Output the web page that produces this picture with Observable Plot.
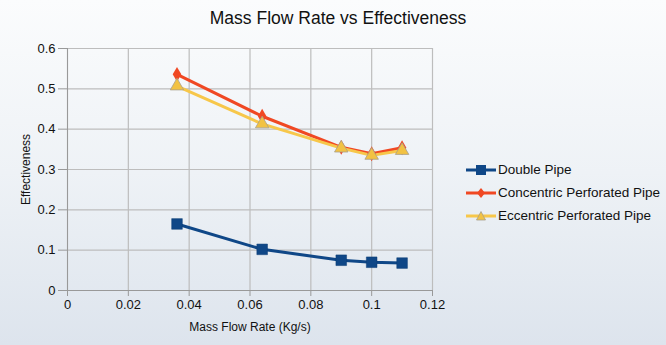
<!DOCTYPE html>
<html>
<head>
<meta charset="utf-8">
<script src="https://cdn.jsdelivr.net/npm/d3@7"></script>
<script src="https://cdn.jsdelivr.net/npm/@observablehq/plot@0.6"></script>
<style>
  html, body { margin: 0; padding: 0; }
  #wrap {
    position: relative; width: 666px; height: 345px; overflow: hidden;
    background: linear-gradient(to bottom, #fbfcfd 0%, #eef2f6 50%, #dde4ed 100%);
    font-family: "Liberation Sans", Arial, sans-serif;
  }
  #title {
    position: absolute; left: 0; top: 8px; width: 676px; text-align: center;
    font-size: 17.5px; color: #111;
  }
  #chart { position: absolute; left: 0; top: 36px; }
  #legend { position: absolute; left: 466px; top: 158px; font-size: 13.5px; color: #111; }
  .row { display: flex; align-items: center; height: 23px; }
  .row svg { margin-right: 2px; }
</style>
</head>
<body>
<div id="wrap">
  <div id="title">Mass Flow Rate vs Effectiveness</div>
  <div id="chart"></div>
  <div id="legend"></div>
</div>
<script>
const massFlow = [0.036, 0.064, 0.09, 0.1, 0.11];
const doublePipe = [0.165, 0.102, 0.075, 0.070, 0.068];
const concentricPipe = [0.536, 0.432, 0.355, 0.339, 0.354];
const eccentricPipe = [0.507, 0.413, 0.353, 0.335, 0.347];
const seriesNames = ["Double Pipe", "Concentric Perforated Pipe", "Eccentric Perforated Pipe"];
const seriesColors = ["#0f4787", "#f04823", "#f7c74a"];
const xTicks = [0, 0.02, 0.04, 0.06, 0.08, 0.1, 0.12];
const yTicks = [0, 0.1, 0.2, 0.3, 0.4, 0.5, 0.6];

const allSeries = [doublePipe, concentricPipe, eccentricPipe];
const data = [];
allSeries.forEach((vals, i) => vals.forEach((v, j) => data.push({x: massFlow[j], y: v, s: seriesNames[i]})));
const bySeries = name => data.filter(d => d.s === name);

const plot = Plot.plot({
  width: 666, height: 309,
  marginLeft: 67, marginRight: 234, marginTop: 12, marginBottom: 55,
  style: {fontFamily: "Liberation Sans, Arial, sans-serif", fontSize: "13px", color: "#111", background: "transparent"},
  x: {domain: [0, 0.12]},
  y: {domain: [0, 0.6]},
  color: {domain: seriesNames, range: seriesColors},
  marks: [
    Plot.gridX(xTicks, {stroke: "#bdbdbd", strokeOpacity: 1, strokeWidth: 1.2}),
    Plot.gridY(yTicks, {stroke: "#bdbdbd", strokeOpacity: 1, strokeWidth: 1.2}),
    Plot.axisX(xTicks, {tickSize: 6, tickPadding: 3, stroke: "#999", tickFormat: d => String(d), label: "Mass Flow Rate (Kg/s)", labelAnchor: "center", labelArrow: "none", labelOffset: 40, fontSize: 13}),
    Plot.axisY(yTicks, {tickSize: 9, tickPadding: 3, stroke: "#999", tickFormat: d => String(d), label: "Effectiveness", labelAnchor: "center", labelArrow: "none", labelOffset: 46, fontSize: 13}),
    Plot.ruleX([0], {stroke: "#999"}),
    Plot.ruleY([0], {stroke: "#999"}),
    Plot.line(data, {x: "x", y: "y", z: "s", stroke: "s", strokeWidth: 3}),
    Plot.dot(bySeries(seriesNames[0]), {x: "x", y: "y", symbol: "square", r: 6, fill: "s", stroke: "#0a3c75", strokeWidth: 0.5}),
    Plot.dot(bySeries(seriesNames[1]), {x: "x", y: "y", symbol: "diamond", r: 4.5, fill: "s", stroke: "none"}),
    Plot.dot(bySeries(seriesNames[2]), {x: "x", y: "y", symbol: "triangle", r: 5, fill: "#f2c243", stroke: "#a8a08a", strokeWidth: 0.8})
  ]
});
plot.querySelectorAll("[aria-label='x-axis label'], [aria-label='y-axis label']").forEach(g => g.setAttribute("font-size", "12px"));
document.getElementById("chart").appendChild(plot);

const legend = document.getElementById("legend");
const markerSvg = [
  '<rect x="10" y="4" width="10" height="10" fill="#0f4787"/>',
  '<path d="M15 4 L19 9 L15 14 L11 9 Z" fill="#f04823"/>',
  '<path d="M15 4.5 L19.5 13 L10.5 13 Z" fill="#f2c243" stroke="#a8a08a" stroke-width="0.8"/>'
];
seriesNames.forEach((name, i) => {
  const row = document.createElement("div");
  row.className = "row";
  row.innerHTML = `<svg width="30" height="18"><line x1="0" x2="30" y1="9" y2="9" stroke="${seriesColors[i]}" stroke-width="3"/>${markerSvg[i]}</svg><span>${name}</span>`;
  legend.appendChild(row);
});
</script>
</body>
</html>
